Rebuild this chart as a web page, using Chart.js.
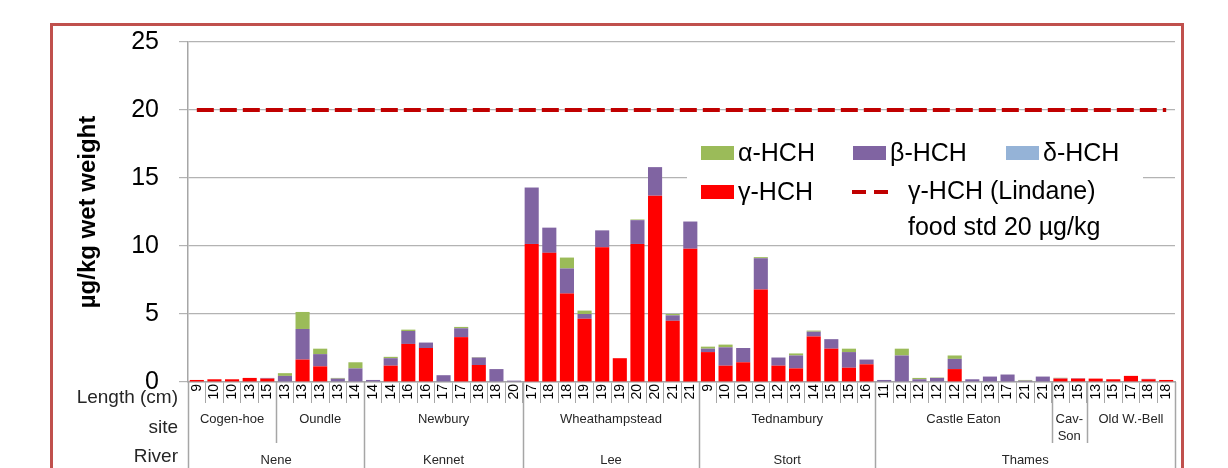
<!DOCTYPE html>
<html>
<head>
<meta charset="utf-8">
<script src="https://cdn.jsdelivr.net/npm/chart.js@4.4.1/dist/chart.umd.min.js"></script>
<style>
  html, body { margin: 0; padding: 0; background: #fff; }
  #chart { display: block; }
</style>
</head>
<body>
<canvas id="chart" width="1228" height="468" style="width:1228px;height:468px"></canvas>
<script>
// HCH in fish, by river / site / fish length

const lengthLabels = [
  "9", "10", "10", "13", "15",
  "13", "13", "13", "13", "14",
  "14", "14", "16", "16", "17", "17", "18", "18", "20",
  "17", "18", "18", "19", "19", "19", "20", "20", "21", "21",
  "9", "10", "10", "10", "12", "13", "14", "15", "15", "16",
  "11", "12", "12", "12", "12", "12", "13", "17", "21", "21",
  "13", "15",
  "13", "15", "17", "18", "18",
];

const siteNames = ["Cogen-hoe", "Oundle", "Newbury", "Wheathampstead", "Tednambury", "Castle Eaton", "Cav-\nSon", "Old W.-Bell"];
const siteCounts = [5, 5, 9, 10, 10, 10, 2, 5];

const riverNames = ["Nene", "Kennet", "Lee", "Stort", "Thames"];
const riverCounts = [10, 9, 10, 10, 17];

const gammaHCH = [
  0.15, 0.2, 0.2, 0.3, 0.25,
  0, 1.65, 1.15, 0, 0,
  0, 1.2, 2.8, 2.5, 0, 3.3, 1.25, 0, 0,
  10.15, 9.5, 6.5, 4.65, 9.9, 1.75, 10.15, 13.7, 4.5, 9.8,
  2.2, 1.2, 1.45, 6.8, 1.2, 1.0, 3.35, 2.45, 1.05, 1.3,
  0, 0, 0, 0, 0.95, 0, 0, 0, 0, 0,
  0.25, 0.25,
  0.25, 0.2, 0.45, 0.2, 0.15,
];
const betaHCH = [
  0, 0, 0, 0, 0.05,
  0.45, 2.25, 0.9, 0.25, 1.0,
  0.15, 0.55, 0.95, 0.4, 0.5, 0.65, 0.55, 0.95, 0.1,
  4.15, 1.85, 1.85, 0.35, 1.25, 0, 1.75, 2.1, 0.4, 2.0,
  0.25, 1.35, 1.05, 2.3, 0.6, 0.95, 0.35, 0.7, 1.15, 0.35,
  0.15, 1.95, 0.2, 0.3, 0.75, 0.2, 0.4, 0.55, 0.1, 0.4,
  0.03, 0.03,
  0, 0, 0, 0.03, 0,
];
const deltaHCH = [
  0, 0, 0, 0, 0,
  0, 0, 0, 0, 0,
  0, 0, 0, 0, 0, 0, 0, 0, 0,
  0, 0, 0, 0, 0, 0, 0, 0, 0, 0,
  0, 0, 0, 0, 0, 0, 0, 0, 0, 0,
  0, 0, 0, 0, 0, 0, 0, 0, 0, 0,
  0, 0,
  0, 0, 0, 0, 0,
];
const alphaHCH = [
  0, 0, 0, 0, 0,
  0.2, 1.25, 0.4, 0.05, 0.45,
  0, 0.1, 0.1, 0, 0, 0.1, 0.03, 0, 0,
  0, 0, 0.8, 0.25, 0, 0, 0.05, 0, 0.1, 0,
  0.15, 0.2, 0, 0.08, 0, 0.15, 0.08, 0, 0.25, 0,
  0, 0.5, 0.1, 0.03, 0.25, 0, 0, 0, 0.05, 0,
  0.03, 0,
  0, 0, 0, 0, 0,
];
const foodStd = 20;

const FONT = "'Liberation Sans', Arial, sans-serif";

const framePlugin = {
  id: "frame",
  beforeDraw(chart) {
    const ctx = chart.ctx;
    ctx.save();
    ctx.fillStyle = "#fff";
    ctx.fillRect(0, 0, chart.width, chart.height);
    ctx.strokeStyle = "#c0504d";
    ctx.lineWidth = 3;
    ctx.strokeRect(51.5, 24.5, 1131, 500);
    ctx.restore();
  },
};

// legend laid out like the original: 3 columns, 2 rows
const legendPlugin = {
  id: "hchLegend",
  beforeDatasetsDraw(chart) {
    const ctx = chart.ctx;
    const ds = chart.data.datasets;
    const find = (label) => ds.find((d) => d.label === label);
    ctx.save();
    ctx.fillStyle = "#fff";
    ctx.fillRect(687, 133, 456, 106);
    ctx.font = "25px " + FONT;
    ctx.textBaseline = "middle";
    const boxes = [
      { d: find("α-HCH"), x: 701, y: 153 },
      { d: find("β-HCH"), x: 853, y: 153 },
      { d: find("δ-HCH"), x: 1006, y: 153 },
      { d: find("γ-HCH"), x: 701, y: 192 },
    ];
    boxes.forEach((b) => {
      ctx.fillStyle = b.d.backgroundColor;
      ctx.fillRect(b.x, b.y - 7, 33, 14);
      ctx.fillStyle = "#000";
      ctx.fillText(b.d.label, b.x + 37, b.y + 1);
    });
    const line = find("std");
    ctx.strokeStyle = line.borderColor;
    ctx.lineWidth = 4;
    ctx.setLineDash([14, 8]);
    ctx.beginPath();
    ctx.moveTo(852, 192);
    ctx.lineTo(890, 192);
    ctx.stroke();
    ctx.setLineDash([]);
    ctx.fillStyle = "#000";
    ctx.fillText("γ-HCH (Lindane)", 908, 192);
    ctx.fillText("food std 20 µg/kg", 908, 228);
    ctx.restore();
  },
};

// site / river rows under the length labels
const groupAxisPlugin = {
  id: "groupAxis",
  afterDraw(chart) {
    const ctx = chart.ctx;
    const xs = chart.scales.x;
    const n = lengthLabels.length;
    const top = xs.top;
    const edge = (i) => {
      if (i <= 0) return xs.left;
      if (i >= n) return xs.right;
      return (xs.getPixelForValue(i - 1) + xs.getPixelForValue(i)) / 2;
    };

    const riverEdges = [0];
    riverCounts.forEach((c) => riverEdges.push(riverEdges[riverEdges.length - 1] + c));
    const siteEdges = [0];
    siteCounts.forEach((c) => siteEdges.push(siteEdges[siteEdges.length - 1] + c));

    ctx.save();
    ctx.strokeStyle = "#a6a6a6";
    ctx.lineWidth = 1.5;
    siteEdges.forEach((e) => {
      if (riverEdges.includes(e)) return;
      const px = Math.round(edge(e)) + 0.5;
      ctx.beginPath();
      ctx.moveTo(px, top);
      ctx.lineTo(px, 443);
      ctx.stroke();
    });
    riverEdges.forEach((e) => {
      const px = Math.round(edge(e)) + 0.5;
      ctx.beginPath();
      ctx.moveTo(px, top);
      ctx.lineTo(px, chart.height);
      ctx.stroke();
    });

    ctx.fillStyle = "#262626";
    ctx.textAlign = "center";
    ctx.textBaseline = "middle";
    ctx.font = "13px " + FONT;
    siteNames.forEach((name, i) => {
      const cx = (edge(siteEdges[i]) + edge(siteEdges[i + 1])) / 2;
      name.split("\n").forEach((part, k) => {
        ctx.fillText(part, cx, 419 + k * 17);
      });
    });
    riverNames.forEach((name, i) => {
      const cx = (edge(riverEdges[i]) + edge(riverEdges[i + 1])) / 2;
      ctx.fillText(name, cx, 460);
    });

    ctx.font = "19px " + FONT;
    ctx.textAlign = "right";
    ctx.fillText("Length (cm)", 178, 398);
    ctx.fillText("site", 178, 428);
    ctx.fillText("River", 178, 457);
    ctx.restore();
  },
};

const ctx = document.getElementById("chart").getContext("2d");

new Chart(ctx, {
  type: "bar",
  data: {
    labels: lengthLabels,
    datasets: [
      { label: "γ-HCH", data: gammaHCH, backgroundColor: "#ff0000", stack: "hch" },
      { label: "β-HCH", data: betaHCH, backgroundColor: "#8064a2", stack: "hch" },
      { label: "δ-HCH", data: deltaHCH, backgroundColor: "#95b3d7", stack: "hch" },
      { label: "α-HCH", data: alphaHCH, backgroundColor: "#9bbb59", stack: "hch" },
      {
        type: "line",
        label: "std",
        data: lengthLabels.map(() => foodStd),
        borderColor: "#c00000",
        borderWidth: 4,
        borderDash: [17, 6],
        pointRadius: 0,
        fill: false,
        stack: "std",
      },
    ],
  },
  options: {
    responsive: false,
    animation: false,
    layout: { padding: { left: 74, right: 53, top: 42, bottom: 0 } },
    datasets: {
      bar: { barPercentage: 0.8, categoryPercentage: 1.0, borderWidth: 0 },
    },
    plugins: {
      legend: { display: false },
      tooltip: { enabled: false },
    },
    scales: {
      x: {
        stacked: true,
        offset: true,
        grid: {
          offset: true,
          drawOnChartArea: false,
          drawTicks: true,
          tickLength: 21,
          color: "#a6a6a6",
          lineWidth: 1,
        },
        border: { display: true, color: "#a6a6a6", width: 1.5 },
        ticks: {
          autoSkip: false,
          minRotation: 90,
          maxRotation: 90,
          padding: -19,
          color: "#000",
          font: { family: FONT, size: 14 },
        },
        afterFit: (scale) => {
          scale.height = 86;
        },
      },
      y: {
        stacked: true,
        min: 0,
        max: 25,
        ticks: {
          stepSize: 5,
          padding: 20,
          color: "#000",
          font: { family: FONT, size: 25 },
        },
        grid: {
          color: "#b3b3b3",
          lineWidth: 1.2,
          tickLength: 9,
        },
        border: { display: true, color: "#a6a6a6", width: 1.5 },
        title: {
          display: true,
          text: "µg/kg wet weight",
          color: "#000",
          padding: { top: 0, bottom: 0 },
          font: { family: FONT, size: 24, weight: "bold" },
        },
        afterFit: (scale) => {
          scale.width = 114;
        },
      },
    },
  },
  plugins: [framePlugin, legendPlugin, groupAxisPlugin],
});
</script>
</body>
</html>
